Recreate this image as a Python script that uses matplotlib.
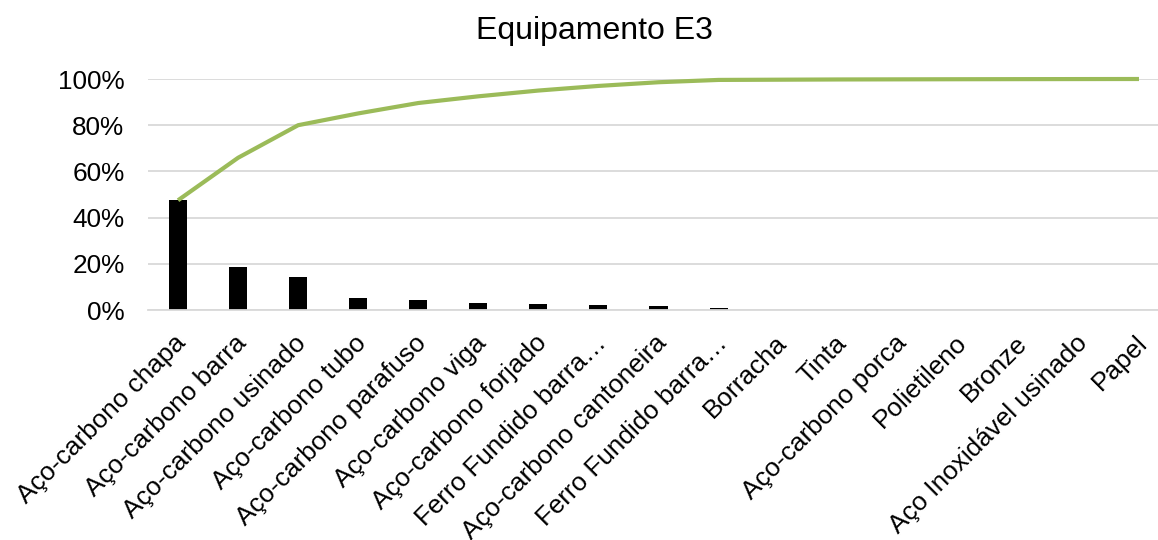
import matplotlib.pyplot as plt
import matplotlib.transforms as mtransforms
import numpy as np

plt.rcParams['font.family'] = ['Liberation Sans', 'DejaVu Sans']

# Categorias e percentuais
categorias = [
    'Aço-carbono chapa', 'Aço-carbono barra', 'Aço-carbono usinado',
    'Aço-carbono tubo', 'Aço-carbono parafuso', 'Aço-carbono viga',
    'Aço-carbono forjado', 'Ferro Fundido barra…', 'Aço-carbono cantoneira',
    'Ferro Fundido barra…', 'Borracha', 'Tinta', 'Aço-carbono porca',
    'Polietileno', 'Bronze', 'Aço Inoxidável usinado', 'Papel',
]
percentual = [47.5, 18.4, 14.1, 5.1, 4.5, 2.9, 2.5, 2.0, 1.6, 1.0,
              0.1, 0.1, 0.05, 0.05, 0.04, 0.03, 0.03]

valores = np.array(percentual) / sum(percentual)
acumulado = np.cumsum(valores)
x = np.arange(len(categorias))

fig = plt.figure(figsize=(11.58, 5.4), dpi=100)
ax = fig.add_axes([148 / 1158, 230 / 540, 1 - 148 / 1158, 231 / 540])

ax.bar(x, valores, width=0.3, color='black', zorder=2)
ax.plot(x, acumulado, color='#9BBB59', linewidth=3.0, zorder=3,
        solid_capstyle='butt', clip_on=False)

ax.set_xlim(-0.5, 16 + 19 / 60)
ax.set_ylim(0, 1)
ax.set_yticks(np.arange(0, 1.01, 0.2))
ax.set_yticklabels([f'{int(round(v * 100))}%' for v in np.arange(0, 1.01, 0.2)])
ax.yaxis.grid(True, color='#D9D9D9', linewidth=1.3, zorder=0)
ax.set_axisbelow(True)

for lado in ['top', 'right', 'left']:
    ax.spines[lado].set_visible(False)
ax.spines['bottom'].set_color('#D9D9D9')
ax.spines['bottom'].set_linewidth(1.3)

ax.tick_params(axis='both', length=0, colors='black')
ax.tick_params(axis='y', pad=17, labelsize=18.8)
ax.set_xticks(x)
ax.set_xticklabels(categorias, rotation=45, ha='right', rotation_mode='anchor',
                   fontsize=18.8)
ax.tick_params(axis='x', pad=15)

# desloca um pouco os rotulos para a esquerda
deslocamento = mtransforms.ScaledTranslation(-4 / 100, 0, fig.dpi_scale_trans)
for rotulo in ax.get_xticklabels():
    rotulo.set_transform(rotulo.get_transform() + deslocamento)

fig.text(594 / 1158, 1 - 31 / 540, 'Equipamento E3', ha='center', va='center',
         fontsize=23)

fig.savefig('out.png', dpi=100)
